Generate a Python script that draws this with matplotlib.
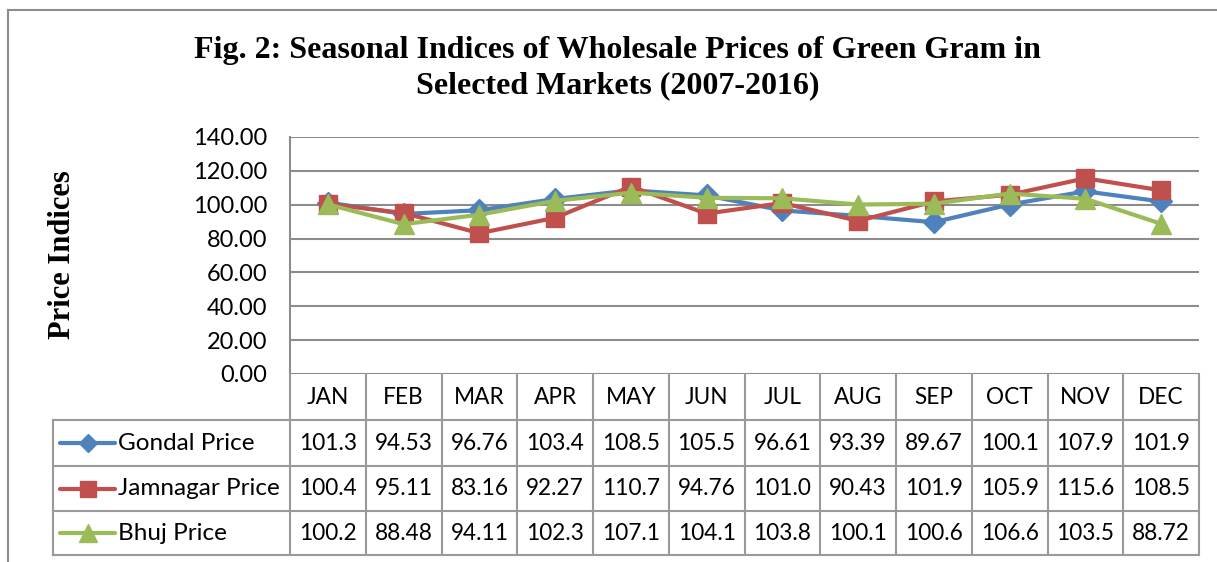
import matplotlib
matplotlib.use("Agg")
import matplotlib.pyplot as plt
import matplotlib.transforms as mtransforms
from matplotlib.lines import Line2D

months = ["JAN", "FEB", "MAR", "APR", "MAY", "JUN", "JUL", "AUG", "SEP", "OCT", "NOV", "DEC"]
series_names = ["Gondal Price", "Jamnagar Price", "Bhuj Price"]
gondal = [101.3, 94.53, 96.76, 103.4, 108.5, 105.5, 96.61, 93.39, 89.67, 100.1, 107.9, 101.9]
jamnagar = [100.4, 95.11, 83.16, 92.27, 110.7, 94.76, 101.0, 90.43, 101.9, 105.9, 115.6, 108.5]
bhuj = [100.2, 88.48, 94.11, 102.3, 107.1, 104.1, 103.8, 100.1, 100.6, 106.6, 103.5, 88.72]
table_text = [
    ["101.3", "94.53", "96.76", "103.4", "108.5", "105.5", "96.61", "93.39", "89.67", "100.1", "107.9", "101.9"],
    ["100.4", "95.11", "83.16", "92.27", "110.7", "94.76", "101.0", "90.43", "101.9", "105.9", "115.6", "108.5"],
    ["100.2", "88.48", "94.11", "102.3", "107.1", "104.1", "103.8", "100.1", "100.6", "106.6", "103.5", "88.72"],
]
yticks = [0, 20, 40, 60, 80, 100, 120, 140]

colors = ["#4F81BD", "#C0504D", "#9BBB59"]
markers = ["D", "s", "^"]
msizes = [11.5, 13.5, 14]
key_msizes = [9, 12, 13]

W, H = 1217, 562
fig = plt.figure(figsize=(W / 100, H / 100), dpi=100)
fig.patch.set_facecolor("white")

def fx(px):
    return px / W

def fy(py):
    return 1 - py / H

ax_left, ax_right, ax_top, ax_bot = 290, 1199, 137, 374
ax = fig.add_axes([fx(ax_left), fy(ax_bot), fx(ax_right - ax_left), (ax_bot - ax_top) / H])

x = list(range(len(months)))
for vals, c, m, ms in zip([gondal, jamnagar, bhuj], colors, markers, msizes):
    ax.plot(x, vals, color=c, lw=3, marker=m, ms=ms, mec=c, mfc=c, zorder=3, solid_joinstyle="miter")

ax.set_xlim(-0.5, len(months) - 0.5)
ax.set_ylim(0, 140)
ax.set_yticks(yticks)
ax.set_yticklabels([f"{v:.2f}" for v in yticks], fontsize=17, family="Lato")
ax.set_xticks([])
ax.tick_params(axis="y", length=0, pad=16.5)
grid_c = "#8c8c8c"
ax.grid(axis="y", color=grid_c, lw=1.5)
ax.set_axisbelow(True)
for s in ["top", "right", "bottom"]:
    ax.spines[s].set_visible(False)
ax.spines["left"].set_color(grid_c)
ax.spines["left"].set_linewidth(1.5)

# Data table
tab_c = "#9a9a9a"
tlw = 1.5
row_bounds = [374, 420, 466, 511, 555]
leg_left = 53
for yb in row_bounds[1:]:
    fig.add_artist(Line2D([fx(leg_left), fx(ax_right)], [fy(yb), fy(yb)], color=tab_c, lw=tlw))
col_w = (ax_right - ax_left) / len(months)
for j in range(len(months) + 1):
    xp = ax_left + j * col_w
    fig.add_artist(Line2D([fx(xp), fx(xp)], [fy(row_bounds[0]), fy(row_bounds[-1])], color=tab_c, lw=tlw))
fig.add_artist(Line2D([fx(leg_left), fx(leg_left)], [fy(row_bounds[1]), fy(row_bounds[-1])], color=tab_c, lw=tlw))

trans = mtransforms.blended_transform_factory(ax.transData, fig.transFigure)
for j, mname in enumerate(months):
    ax.text(j, fy((row_bounds[0] + row_bounds[1]) / 2), mname, transform=trans,
            ha="center", va="center", fontsize=16.3, family="Lato")
for r in range(3):
    yc = fy((row_bounds[r + 1] + row_bounds[r + 2]) / 2)
    for j in range(len(months)):
        ax.text(j, yc, table_text[r][j], transform=trans, ha="center", va="center",
                fontsize=16.3, family="Lato")
    fig.add_artist(Line2D([fx(60), fx(115)], [yc, yc], color=colors[r], lw=3,
                          solid_capstyle="round"))
    fig.add_artist(Line2D([fx(87.5)], [yc], color=colors[r], marker=markers[r],
                          ms=key_msizes[r], mfc=colors[r], mec=colors[r], lw=0))
    fig.text(fx(118), yc, series_names[r], ha="left", va="center", fontsize=17.5, family="Lato")

# Title and y label
fig.text(fx(617.5), fy(68), "Fig. 2: Seasonal Indices of Wholesale Prices of Green Gram in\nSelected Markets (2007-2016)",
         ha="center", va="center", fontsize=23, fontweight="bold", family="Liberation Serif",
         linespacing=1.3)
fig.text(fx(63), fy(255), "Price Indices", rotation=90, ha="center", va="center",
         fontsize=22, fontweight="bold", family="Liberation Serif")

# outer chart border
fig.add_artist(Line2D([fx(8), fx(8)], [fy(10), 0], color="#8c8c8c", lw=1.5))
fig.add_artist(Line2D([fx(8), 1], [fy(10), fy(10)], color="#8c8c8c", lw=1.5))

fig.savefig("out.png", dpi=100)
